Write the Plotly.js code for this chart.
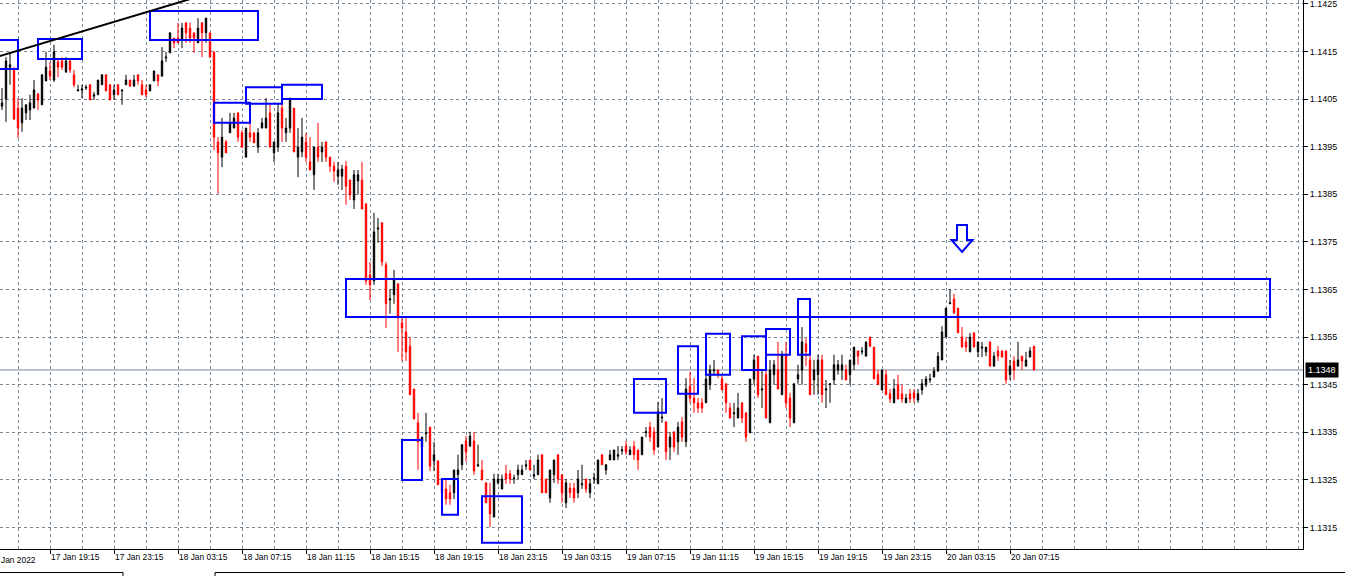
<!DOCTYPE html>
<html><head><meta charset="utf-8">
<script src="https://cdn.plot.ly/plotly-3.0.1.min.js"></script>
<style>html,body{margin:0;padding:0;background:#fff;overflow:hidden}#chart{width:1345px;height:576px}</style>
</head><body><div id="chart"></div>
<script>
// ---- EURUSD M15 data ----
const firstBarTime = '2022-01-17 16:15';
const barMinutes = 15;
const opens = [1.14035,1.14050,1.14117,1.14111,1.14031,1.14000,1.14021,1.14027,1.14031,1.14061,1.14038,1.14088,1.14109,1.14090,1.14128,1.14130,1.14107,1.14130,1.14101,1.14067,1.14069,1.14073,1.14080,1.14056,1.14059,1.14080,1.14101,1.14080,1.14059,1.14080,1.14067,1.14080,1.14090,1.14077,1.14101,1.14080,1.14069,1.14067,1.14088,1.14101,1.14098,1.14136,1.14147,1.14178,1.14178,1.14176,1.14210,1.14199,1.14189,1.14168,1.14210,1.14189,1.14189,1.14149,1.13960,1.13928,1.13960,1.13979,1.13989,1.14021,1.13979,1.13928,1.13979,1.13979,1.13949,1.13989,1.13989,1.14021,1.13937,1.13949,1.14031,1.13979,1.13989,1.14031,1.13928,1.13939,1.13960,1.13918,1.13891,1.13949,1.13939,1.13960,1.13928,1.13909,1.13888,1.13888,1.13909,1.13880,1.13838,1.13878,1.13880,1.13830,1.13681,1.13668,1.13777,1.13790,1.13702,1.13628,1.13639,1.13662,1.13580,1.13561,1.13531,1.13441,1.13370,1.13319,1.13347,1.13361,1.13290,1.13290,1.13252,1.13231,1.13223,1.13223,1.13261,1.13282,1.13332,1.13321,1.13332,1.13279,1.13271,1.13244,1.13212,1.13172,1.13244,1.13231,1.13263,1.13263,1.13252,1.13261,1.13261,1.13279,1.13292,1.13258,1.13261,1.13303,1.13252,1.13212,1.13261,1.13303,1.13261,1.13202,1.13233,1.13233,1.13223,1.13240,1.13252,1.13223,1.13252,1.13242,1.13303,1.13271,1.13292,1.13292,1.13300,1.13311,1.13321,1.13303,1.13321,1.13313,1.13303,1.13349,1.13361,1.13351,1.13319,1.13380,1.13372,1.13319,1.13351,1.13330,1.13372,1.13330,1.13447,1.13422,1.13412,1.13412,1.13412,1.13450,1.13479,1.13481,1.13462,1.13452,1.13401,1.13389,1.13380,1.13412,1.13391,1.13349,1.13462,1.13510,1.13439,1.13471,1.13370,1.13471,1.13481,1.13429,1.13513,1.13422,1.13370,1.13462,1.13481,1.13536,1.13502,1.13460,1.13471,1.13502,1.13439,1.13450,1.13460,1.13481,1.13481,1.13481,1.13471,1.13492,1.13521,1.13519,1.13510,1.13550,1.13529,1.13471,1.13439,1.13471,1.13431,1.13412,1.13450,1.13431,1.13412,1.13431,1.13433,1.13418,1.13439,1.13450,1.13460,1.13466,1.13479,1.13502,1.13550,1.13620,1.13630,1.13611,1.13550,1.13540,1.13519,1.13559,1.13519,1.13527,1.13519,1.13540,1.13489,1.13521,1.13521,1.13521,1.13471,1.13500,1.13489,1.13510,1.13489,1.13508,1.13531];
const highs = [1.14073,1.14138,1.14149,1.14117,1.14052,1.14052,1.14038,1.14059,1.14090,1.14061,1.14101,1.14149,1.14128,1.14164,1.14132,1.14138,1.14138,1.14136,1.14111,1.14080,1.14080,1.14080,1.14080,1.14065,1.14090,1.14101,1.14101,1.14080,1.14080,1.14080,1.14069,1.14101,1.14090,1.14101,1.14101,1.14090,1.14080,1.14080,1.14109,1.14101,1.14159,1.14149,1.14189,1.14178,1.14210,1.14210,1.14210,1.14210,1.14189,1.14220,1.14210,1.14220,1.14189,1.14149,1.13970,1.14010,1.13964,1.14021,1.14021,1.14021,1.13985,1.13989,1.14000,1.13979,1.13989,1.14010,1.14052,1.14042,1.13960,1.14042,1.14052,1.14010,1.14052,1.14031,1.13989,1.14010,1.13979,1.13970,1.13949,1.14000,1.13960,1.13960,1.13928,1.13918,1.13918,1.13912,1.13920,1.13880,1.13901,1.13901,1.13918,1.13830,1.13708,1.13811,1.13800,1.13790,1.13708,1.13651,1.13691,1.13662,1.13590,1.13590,1.13550,1.13441,1.13391,1.13340,1.13391,1.13361,1.13330,1.13290,1.13252,1.13252,1.13240,1.13271,1.13303,1.13324,1.13342,1.13351,1.13351,1.13324,1.13292,1.13244,1.13244,1.13263,1.13263,1.13261,1.13282,1.13271,1.13261,1.13282,1.13282,1.13292,1.13292,1.13282,1.13303,1.13303,1.13252,1.13271,1.13292,1.13303,1.13261,1.13252,1.13244,1.13244,1.13271,1.13282,1.13252,1.13252,1.13265,1.13292,1.13303,1.13282,1.13313,1.13313,1.13321,1.13321,1.13332,1.13321,1.13332,1.13313,1.13340,1.13361,1.13372,1.13361,1.13414,1.13422,1.13372,1.13351,1.13351,1.13372,1.13382,1.13464,1.13477,1.13464,1.13422,1.13422,1.13473,1.13492,1.13502,1.13481,1.13471,1.13452,1.13412,1.13412,1.13433,1.13412,1.13391,1.13462,1.13513,1.13510,1.13483,1.13492,1.13502,1.13502,1.13540,1.13521,1.13540,1.13433,1.13452,1.13492,1.13571,1.13548,1.13513,1.13502,1.13513,1.13513,1.13460,1.13452,1.13513,1.13502,1.13513,1.13492,1.13502,1.13529,1.13521,1.13529,1.13540,1.13550,1.13529,1.13481,1.13481,1.13481,1.13441,1.13462,1.13471,1.13450,1.13431,1.13441,1.13441,1.13441,1.13462,1.13468,1.13473,1.13487,1.13519,1.13573,1.13611,1.13651,1.13641,1.13611,1.13571,1.13550,1.13559,1.13559,1.13540,1.13540,1.13529,1.13540,1.13519,1.13531,1.13521,1.13521,1.13502,1.13510,1.13540,1.13510,1.13519,1.13529,1.13531];
const lows = [1.14027,1.14002,1.14080,1.14006,1.13968,1.13981,1.14006,1.14006,1.14031,1.14027,1.14038,1.14088,1.14090,1.14086,1.14096,1.14111,1.14105,1.14105,1.14075,1.14067,1.14052,1.14069,1.14048,1.14048,1.14059,1.14080,1.14067,1.14048,1.14048,1.14059,1.14038,1.14080,1.14077,1.14077,1.14080,1.14059,1.14054,1.14067,1.14088,1.14077,1.14098,1.14128,1.14147,1.14157,1.14168,1.14157,1.14168,1.14168,1.14147,1.14168,1.14138,1.14168,1.14138,1.13943,1.13851,1.13907,1.13937,1.13979,1.13989,1.13960,1.13947,1.13928,1.13960,1.13958,1.13937,1.13989,1.13989,1.13949,1.13918,1.13939,1.13960,1.13960,1.13979,1.13939,1.13886,1.13928,1.13918,1.13901,1.13859,1.13918,1.13918,1.13918,1.13897,1.13876,1.13870,1.13859,1.13828,1.13838,1.13819,1.13849,1.13819,1.13660,1.13628,1.13660,1.13748,1.13699,1.13569,1.13599,1.13620,1.13519,1.13500,1.13500,1.13429,1.13378,1.13271,1.13303,1.13330,1.13269,1.13269,1.13240,1.13210,1.13198,1.13198,1.13210,1.13250,1.13271,1.13288,1.13321,1.13261,1.13279,1.13250,1.13202,1.13151,1.13172,1.13240,1.13231,1.13242,1.13242,1.13242,1.13252,1.13261,1.13271,1.13271,1.13252,1.13261,1.13223,1.13223,1.13202,1.13244,1.13242,1.13202,1.13191,1.13212,1.13202,1.13212,1.13231,1.13223,1.13212,1.13242,1.13242,1.13282,1.13261,1.13292,1.13292,1.13292,1.13303,1.13303,1.13303,1.13292,1.13271,1.13303,1.13340,1.13330,1.13303,1.13319,1.13370,1.13292,1.13292,1.13309,1.13303,1.13330,1.13319,1.13412,1.13391,1.13391,1.13391,1.13412,1.13439,1.13471,1.13464,1.13439,1.13391,1.13380,1.13361,1.13380,1.13370,1.13330,1.13349,1.13450,1.13422,1.13401,1.13380,1.13370,1.13450,1.13441,1.13429,1.13401,1.13361,1.13370,1.13452,1.13450,1.13489,1.13429,1.13429,1.13429,1.13412,1.13401,1.13412,1.13450,1.13471,1.13460,1.13460,1.13450,1.13481,1.13492,1.13513,1.13510,1.13529,1.13462,1.13450,1.13439,1.13429,1.13412,1.13412,1.13420,1.13412,1.13412,1.13412,1.13412,1.13412,1.13429,1.13445,1.13454,1.13466,1.13477,1.13502,1.13550,1.13620,1.13599,1.13559,1.13529,1.13519,1.13519,1.13529,1.13508,1.13508,1.13510,1.13489,1.13489,1.13500,1.13508,1.13452,1.13460,1.13460,1.13489,1.13481,1.13489,1.13508,1.13481];
const closes = [1.14042,1.14130,1.14122,1.14008,1.13989,1.14031,1.14038,1.14042,1.14069,1.14048,1.14101,1.14117,1.14098,1.14149,1.14117,1.14117,1.14130,1.14111,1.14080,1.14069,1.14071,1.14075,1.14048,1.14059,1.14090,1.14101,1.14067,1.14048,1.14069,1.14059,1.14069,1.14090,1.14077,1.14090,1.14088,1.14059,1.14059,1.14080,1.14109,1.14088,1.14130,1.14138,1.14189,1.14168,1.14168,1.14199,1.14189,1.14178,1.14178,1.14199,1.14189,1.14220,1.14138,1.13970,1.13937,1.13970,1.13937,1.14000,1.14010,1.13970,1.13949,1.13989,1.13970,1.13958,1.13979,1.14000,1.14010,1.13949,1.13960,1.14021,1.13989,1.13989,1.14052,1.13939,1.13949,1.13970,1.13928,1.13901,1.13949,1.13928,1.13949,1.13928,1.13909,1.13899,1.13901,1.13903,1.13867,1.13849,1.13891,1.13891,1.13819,1.13668,1.13660,1.13771,1.13779,1.13708,1.13620,1.13630,1.13670,1.13590,1.13569,1.13519,1.13429,1.13378,1.13330,1.13340,1.13349,1.13279,1.13303,1.13240,1.13223,1.13210,1.13210,1.13271,1.13271,1.13324,1.13309,1.13342,1.13269,1.13282,1.13250,1.13202,1.13179,1.13252,1.13252,1.13252,1.13252,1.13252,1.13254,1.13271,1.13271,1.13282,1.13271,1.13261,1.13292,1.13223,1.13223,1.13271,1.13292,1.13252,1.13223,1.13244,1.13223,1.13212,1.13252,1.13242,1.13231,1.13242,1.13254,1.13292,1.13282,1.13282,1.13303,1.13313,1.13303,1.13313,1.13309,1.13313,1.13303,1.13292,1.13340,1.13351,1.13340,1.13313,1.13393,1.13382,1.13309,1.13340,1.13319,1.13361,1.13340,1.13441,1.13422,1.13412,1.13401,1.13401,1.13462,1.13481,1.13481,1.13471,1.13439,1.13412,1.13380,1.13391,1.13401,1.13380,1.13340,1.13462,1.13502,1.13429,1.13441,1.13380,1.13481,1.13492,1.13441,1.13513,1.13412,1.13380,1.13452,1.13471,1.13540,1.13519,1.13429,1.13481,1.13502,1.13429,1.13441,1.13452,1.13492,1.13492,1.13492,1.13460,1.13502,1.13529,1.13510,1.13521,1.13540,1.13531,1.13462,1.13450,1.13481,1.13429,1.13420,1.13441,1.13420,1.13420,1.13422,1.13420,1.13422,1.13431,1.13452,1.13462,1.13462,1.13479,1.13510,1.13561,1.13611,1.13622,1.13601,1.13559,1.13529,1.13529,1.13550,1.13529,1.13540,1.13529,1.13529,1.13489,1.13510,1.13510,1.13508,1.13460,1.13489,1.13481,1.13502,1.13500,1.13502,1.13521,1.13481];

// x-axis labels
const tickTimes = ['2022-01-17 19:15','2022-01-17 23:15','2022-01-18 03:15','2022-01-18 07:15','2022-01-18 11:15','2022-01-18 15:15','2022-01-18 19:15','2022-01-18 23:15','2022-01-19 03:15','2022-01-19 07:15','2022-01-19 11:15','2022-01-19 15:15','2022-01-19 19:15','2022-01-19 23:15','2022-01-20 03:15','2022-01-20 07:15'];
const tickLabels = ['17 Jan 19:15','17 Jan 23:15','18 Jan 03:15','18 Jan 07:15','18 Jan 11:15','18 Jan 15:15','18 Jan 19:15','18 Jan 23:15','19 Jan 03:15','19 Jan 07:15','19 Jan 11:15','19 Jan 15:15','19 Jan 19:15','19 Jan 23:15','20 Jan 03:15','20 Jan 07:15'];
const firstDateLabel = 'Jan 2022';   // visible part of the first (clipped) date label

// drawn objects: rectangles (time/price anchors)
const zoneStart = ['2022-01-17 15:30','2022-01-17 18:30','2022-01-18 01:30','2022-01-18 05:30','2022-01-18 07:30','2022-01-18 09:45','2022-01-18 13:45','2022-01-18 17:15','2022-01-18 19:45','2022-01-18 22:15','2022-01-19 07:45','2022-01-19 10:30','2022-01-19 12:15','2022-01-19 14:30','2022-01-19 16:00','2022-01-19 18:00'];
const zoneEnd   = ['2022-01-17 17:15','2022-01-17 21:15','2022-01-18 08:15','2022-01-18 07:45','2022-01-18 09:45','2022-01-18 12:15','2022-01-20 23:30','2022-01-18 18:30','2022-01-18 20:45','2022-01-19 00:45','2022-01-19 09:45','2022-01-19 11:45','2022-01-19 13:45','2022-01-19 16:00','2022-01-19 17:30','2022-01-19 18:45'];
const zoneHigh  = [1.14174,1.14176,1.14235,1.14042,1.14075,1.14080,1.13672,1.13334,1.13252,1.13216,1.13462,1.13531,1.13557,1.13552,1.13567,1.13630];
const zoneLow   = [1.14113,1.14134,1.14174,1.14000,1.14040,1.14050,1.13592,1.13250,1.13177,1.13118,1.13391,1.13431,1.13471,1.13481,1.13513,1.13513];
const trendTimes = ['2022-01-17 16:00','2022-01-18 06:00'];
const trendPrices = [1.14139, 1.14280];
const arrowTime = '2022-01-20 04:15';
const arrowPrice = 1.13729;
const bidPrice = 1.13481;
const bidLabel = '1.1348';
const xRange = ['2022-01-17 16:07:30','2022-01-21 01:33:45'];
const yRange = [1.13105, 1.14258];

// ---- helpers ----
function toMs(s){const [d,t]=s.split(' ');const [Y,M,D]=d.split('-').map(Number);const p=t.split(':').map(Number);return Date.UTC(Y,M-1,D,p[0],p[1],p[2]||0);}
function pad(n){return String(n).padStart(2,'0');}
function fromMs(ms){const d=new Date(ms);return d.getUTCFullYear()+'-'+pad(d.getUTCMonth()+1)+'-'+pad(d.getUTCDate())+' '+pad(d.getUTCHours())+':'+pad(d.getUTCMinutes());}
const t0 = toMs(firstBarTime);
const barTimes = opens.map((_,i)=>fromMs(t0+i*barMinutes*60000));

const W=1345,H=576,ML=0,MR=42,MT=0,MB=27;
const plotW=W-ML-MR, plotH=H-MT-MB;
const spanMs = toMs(xRange[1])-toMs(xRange[0]);
const msPerPx = spanMs/plotW;
const pricePerPx = (yRange[1]-yRange[0])/plotH;

const GRID='#778899';
const FONT='Liberation Sans, Arial, sans-serif';

const shapes=[];
for(let k=0;k<zoneStart.length;k++){
  shapes.push({type:'rect',xref:'x',yref:'y',x0:zoneStart[k],x1:zoneEnd[k],y0:zoneLow[k],y1:zoneHigh[k],
    line:{color:'#0000ff',width:2},fillcolor:'rgba(0,0,0,0)',layer:'above'});
}
shapes.push({type:'line',xref:'x',yref:'y',x0:trendTimes[0],x1:trendTimes[1],y0:trendPrices[0],y1:trendPrices[1],
  line:{color:'#000',width:2},layer:'above'});
shapes.push({type:'line',xref:'paper',yref:'y',x0:0,x1:1,y0:bidPrice,y1:bidPrice,line:{color:GRID,width:1},layer:'below'});
// hollow down arrow (pixel geometry around its tip)
const arrowGeom=[[0,0],[-10.5,-12],[-5,-12],[-5,-27],[5,-27],[5,-12],[10.5,-12]];
const tipMs=toMs(arrowTime);
const arrowPath='M'+arrowGeom.map(p=>(tipMs+p[0]*msPerPx)+','+(arrowPrice-p[1]*pricePerPx)).join(' L')+' Z';
shapes.push({type:'path',xref:'x',yref:'y',path:arrowPath,line:{color:'#0000ff',width:2},fillcolor:'rgba(0,0,0,0)',layer:'above'});
// bottom tab strip
const py=v=>(plotH-v)/plotH, px=v=>v/plotW;
shapes.push({type:'line',xref:'paper',yref:'paper',x0:0,x1:px(123),y0:py(572.5),y1:py(572.5),line:{color:'#000',width:1}});
shapes.push({type:'line',xref:'paper',yref:'paper',x0:px(123),x1:px(123),y0:py(572.5),y1:py(577),line:{color:'#000',width:1}});
shapes.push({type:'line',xref:'paper',yref:'paper',x0:px(215),x1:px(1345),y0:py(572.5),y1:py(572.5),line:{color:'#000',width:1}});
shapes.push({type:'line',xref:'paper',yref:'paper',x0:px(215),x1:px(215),y0:py(572.5),y1:py(577),line:{color:'#000',width:1}});

const trace={type:'candlestick',x:barTimes,open:opens,high:highs,low:lows,close:closes,
  increasing:{line:{color:'#000000',width:1},fillcolor:'#000000'},
  decreasing:{line:{color:'#ff0000',width:1},fillcolor:'#ff0000'},
  whiskerwidth:0,hoverinfo:'skip',showlegend:false};

const layout={width:W,height:H,margin:{l:ML,r:MR,t:MT,b:MB,pad:0},
  paper_bgcolor:'#fff',plot_bgcolor:'#fff',showlegend:false,boxgap:0.5,
  font:{family:FONT,size:9,color:'#000'},
  xaxis:{type:'date',range:xRange,rangeslider:{visible:false},
    tickmode:'array',tickvals:tickTimes,ticktext:tickLabels,ticklabelposition:'outside right',
    ticks:'outside',ticklen:4,tickcolor:'#000',tickfont:{family:FONT,size:8.4,color:'#000'},
    showgrid:true,gridcolor:GRID,griddash:'3px,3px',gridwidth:1,
    minor:{tickmode:'linear',tick0:'2022-01-17 17:15',dtick:7200000,showgrid:true,gridcolor:GRID,griddash:'3px,3px',gridwidth:1,ticks:''},
    showline:true,linecolor:'#000',linewidth:1,zeroline:false,fixedrange:true},
  yaxis:{side:'right',range:yRange,tickmode:'linear',tick0:1.1315,dtick:0.001,tickformat:'.4f',
    ticks:'outside',ticklen:4,tickcolor:'#000',tickfont:{family:FONT,size:9,color:'#000'},ticklabeloverflow:'allow',
    showgrid:true,gridcolor:GRID,griddash:'3px,3px',gridwidth:1,
    showline:true,linecolor:'#000',linewidth:1,zeroline:false,fixedrange:true},
  shapes:shapes,
  annotations:[
    {xref:'paper',yref:'y',x:1,y:bidPrice,xanchor:'left',yanchor:'middle',xshift:2,text:bidLabel,showarrow:false,
     bgcolor:'#000',borderpad:2,font:{family:FONT,size:9,color:'#fff'}},
    {xref:'paper',yref:'paper',x:0,y:0,xanchor:'left',yanchor:'top',
     xshift:-1,yshift:-4,text:firstDateLabel,showarrow:false,font:{family:FONT,size:8.4,color:'#000'}}
  ],
  hovermode:false,dragmode:false};

Plotly.newPlot('chart',[trace],layout,{displayModeBar:false,staticPlot:true});
</script></body></html>
